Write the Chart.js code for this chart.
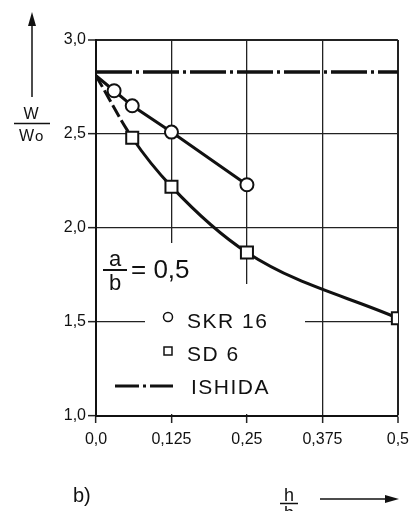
<!DOCTYPE html>
<html>
<head>
<meta charset="utf-8">
<script src="https://cdn.jsdelivr.net/npm/chart.js@4.4.0/dist/chart.umd.min.js"></script>
<style>
  html, body { margin: 0; padding: 0; background: #fff; }
  canvas { display: block; }
</style>
</head>
<body>
<canvas id="grafica" width="416" height="511"></canvas>
<script>
// datos (h/b -> W/W0)
const xSKR = [0, 0.03, 0.06, 0.125, 0.25];
const valoresSKR = [2.81, 2.73, 2.65, 2.51, 2.23];
const xSD = [0, 0.06, 0.125, 0.25, 0.5];
const valoresSD = [2.81, 2.48, 2.22, 1.87, 1.52];
const xIshida = [0, 0.5];
const valoresIshida = [2.83, 2.83];
const etiquetasX = ['0,0', '0,125', '0,25', '0,375', '0,5'];
const etiquetasY = ['1,0', '1,5', '2,0', '2,5', '3,0'];
const nombres = ['SKR 16', 'SD 6', 'ISHIDA'];

const FUENTE = "'Liberation Sans', Arial, sans-serif";
const NEGRO = '#111';

function puntos(xs, ys) {
    return xs.map((x, i) => ({ x: x, y: ys[i] }));
}

// fondo blanco y huecos en la reticula detras de la leyenda
const fondo = {
    id: 'fondo',
    beforeDraw(chart) {
        const ctx = chart.ctx;
        ctx.save();
        ctx.fillStyle = '#fff';
        ctx.fillRect(0, 0, chart.width, chart.height);
        ctx.restore();
    },
    beforeDatasetsDraw(chart) {
        const ctx = chart.ctx;
        ctx.save();
        ctx.fillStyle = '#fff';
        ctx.fillRect(98, 243, 90, 57);
        ctx.fillRect(145, 284, 160, 130);
        ctx.fillRect(98, 330, 60, 84);
        ctx.restore();
    }
};

function flecha(ctx, x1, y1, x2, y2) {
    const ang = Math.atan2(y2 - y1, x2 - x1);
    ctx.beginPath();
    ctx.moveTo(x1, y1);
    ctx.lineTo(x2 - 12 * Math.cos(ang), y2 - 12 * Math.sin(ang));
    ctx.stroke();
    ctx.beginPath();
    ctx.moveTo(x2, y2);
    ctx.lineTo(x2 - 14 * Math.cos(ang) + 4 * Math.sin(ang), y2 - 14 * Math.sin(ang) - 4 * Math.cos(ang));
    ctx.lineTo(x2 - 14 * Math.cos(ang) - 4 * Math.sin(ang), y2 - 14 * Math.sin(ang) + 4 * Math.cos(ang));
    ctx.closePath();
    ctx.fill();
}

// leyenda, titulos de ejes y anotacion a/b
const textos = {
    id: 'textos',
    afterDraw(chart) {
        const ctx = chart.ctx;
        const ds = chart.data.datasets;
        ctx.save();
        ctx.fillStyle = NEGRO;
        ctx.strokeStyle = NEGRO;
        ctx.textBaseline = 'alphabetic';

        // titulo eje Y: W / W0 con flecha
        ctx.lineWidth = 1.5;
        flecha(ctx, 32, 97, 32, 12);
        ctx.font = '16px ' + FUENTE;
        ctx.textAlign = 'center';
        ctx.fillText('W', 31, 119);
        ctx.beginPath();
        ctx.moveTo(14, 123.5);
        ctx.lineTo(50, 123.5);
        ctx.stroke();
        ctx.textAlign = 'left';
        ctx.fillText('W', 19, 141);
        ctx.font = '15px ' + FUENTE;
        ctx.fillText('o', 35, 141);

        // titulo eje X: h / b con flecha
        ctx.font = '18px ' + FUENTE;
        ctx.textAlign = 'center';
        ctx.fillText('h', 289, 501);
        ctx.beginPath();
        ctx.moveTo(280, 503.5);
        ctx.lineTo(298, 503.5);
        ctx.stroke();
        ctx.fillText('b', 289, 519);
        flecha(ctx, 320, 499, 399, 499);

        ctx.font = '20px ' + FUENTE;
        ctx.textAlign = 'left';
        ctx.fillText('b)', 73, 502);

        // a/b = 0,5
        ctx.font = '22px ' + FUENTE;
        ctx.textAlign = 'center';
        ctx.fillText('a', 115, 266);
        ctx.fillText('b', 115, 290);
        ctx.lineWidth = 2;
        ctx.beginPath();
        ctx.moveTo(103, 270);
        ctx.lineTo(127, 270);
        ctx.stroke();
        ctx.font = '26px ' + FUENTE;
        ctx.textAlign = 'left';
        ctx.fillText('= 0,5', 131, 278);

        // leyenda
        ctx.font = '21px ' + FUENTE;
        ctx.letterSpacing = '1.5px';
        ctx.lineWidth = 1.5;
        ctx.beginPath();
        ctx.arc(168, 317, 4.5, 0, Math.PI * 2);
        ctx.stroke();
        ctx.fillText(ds[0].label, 187, 328);
        ctx.strokeRect(164, 347, 8, 8);
        ctx.fillText(ds[1].label, 187, 361);
        ctx.lineWidth = 3;
        ctx.setLineDash([24, 4, 3, 4]);
        ctx.beginPath();
        ctx.moveTo(115, 386);
        ctx.lineTo(173, 386);
        ctx.stroke();
        ctx.setLineDash([]);
        ctx.fillText(ds[2].label, 191, 394);
        ctx.restore();
    }
};

const ctx = document.getElementById('grafica').getContext('2d');

new Chart(ctx, {
    type: 'line',
    data: {
        datasets: [
            {
                label: nombres[0],
                data: puntos(xSKR, valoresSKR),
                borderColor: NEGRO,
                borderWidth: 3,
                backgroundColor: '#fff',
                pointStyle: 'circle',
                pointRadius: c => c.dataIndex === 0 ? 0 : 6.5,
                pointBorderWidth: 2,
                pointBorderColor: NEGRO,
                pointBackgroundColor: '#fff',
                tension: 0
            },
            {
                label: nombres[1],
                data: puntos(xSD, valoresSD),
                borderColor: NEGRO,
                borderWidth: 3,
                backgroundColor: '#fff',
                pointStyle: 'rect',
                pointRadius: c => c.dataIndex === 0 ? 0 : 8.5,
                pointBorderWidth: 2,
                pointBorderColor: NEGRO,
                pointBackgroundColor: '#fff',
                cubicInterpolationMode: 'monotone',
                segment: {
                    borderDash: c => c.p0DataIndex === 0 ? [13, 4] : undefined
                }
            },
            {
                label: nombres[2],
                data: puntos(xIshida, valoresIshida),
                borderColor: NEGRO,
                borderWidth: 3.5,
                borderDash: [36, 4, 3, 4],
                pointRadius: 0,
                tension: 0
            }
        ]
    },
    options: {
        responsive: false,
        devicePixelRatio: 1,
        animation: false,
        layout: {
            padding: { top: 40, right: 18, left: 0, bottom: 0 }
        },
        plugins: {
            legend: { display: false },
            tooltip: { enabled: false }
        },
        scales: {
            x: {
                type: 'linear',
                min: 0,
                max: 0.5,
                afterFit: s => { s.height = 95; },
                afterBuildTicks: s => {
                    s.ticks = etiquetasX.map((t, i) => ({ value: i * 0.125 }));
                },
                ticks: {
                    autoSkip: false,
                    maxRotation: 0,
                    padding: 7,
                    color: NEGRO,
                    font: { family: FUENTE, size: 16 },
                    callback: (v, i) => etiquetasX[i]
                },
                grid: {
                    color: '#222',
                    lineWidth: c => c.index === etiquetasX.length - 1 ? 2 : 1.3,
                    tickLength: 7,
                    tickColor: '#222',
                    tickWidth: 1.5
                },
                border: { color: NEGRO, width: 2 }
            },
            y: {
                min: 1,
                max: 3,
                afterFit: s => { s.width = 96; },
                afterBuildTicks: s => {
                    s.ticks = etiquetasY.map((t, i) => ({ value: 1 + i * 0.5 }));
                },
                ticks: {
                    autoSkip: false,
                    padding: 2,
                    color: NEGRO,
                    font: { family: FUENTE, size: 16 },
                    callback: (v, i) => etiquetasY[i]
                },
                grid: {
                    color: '#222',
                    lineWidth: c => c.index === etiquetasY.length - 1 ? 2 : 1.3,
                    tickLength: 8,
                    tickColor: '#222',
                    tickWidth: 1.5
                },
                border: { color: NEGRO, width: 2 }
            }
        }
    },
    plugins: [fondo, textos]
});
</script>
</body>
</html>
